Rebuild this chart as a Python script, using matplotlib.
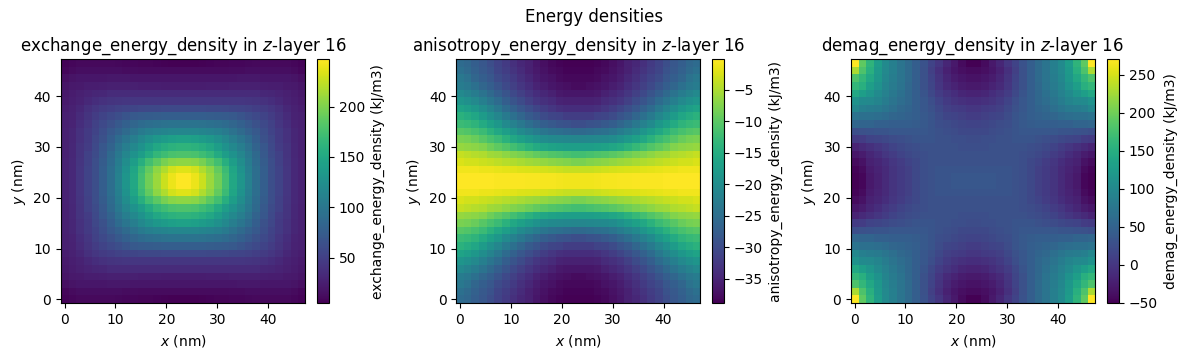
import numpy as np
import matplotlib
matplotlib.use("Agg")
import matplotlib.pyplot as plt

W, H = 1188, 358
cell_nm = 1.5
titles = ["exchange_energy_density", "anisotropy_energy_density", "demag_energy_density"]
layer = 16
suptitle = "Energy densities"
unit = "kJ/m3"

# lower-left quadrant (16x16 cells), row 0 at y = 0
exchange_q = [
 [7,9,11,11,11,11,11,10,9,9,8,8,7,6,5,4.6],
 [9,12,14,14,14,14,14,14,13,13,12,12,12,12,12,12],
 [15,17,19,19,19,19,20,20,20,19,19,19,19,19,19,19],
 [18,21,22,24,24,25,26,26,26,26,25,25,25,24,24,24],
 [20,23,26,29,31,32,34,34,34,34,34,34,34,34,34,34],
 [22,25,28,33,36,39,41,42,43,43,43,43,43,43,43,43],
 [24,27,32,38,43,47,50,52,54,55,56,57,57,58,58,58],
 [26,28,34,41,48,53,58,63,68,72,74,75,76,77,77,77],
 [26,29,36,43,51,58,65,72,79,85,89,92,94,96,97,97],
 [27,31,39,46,53,63,72,80,88,96,104,109,112,114,116,116],
 [27,31,39,46,56,65,77,89,99,108,118,126,133,138,141,143],
 [27,32,41,48,58,70,82,96,108,118,128,140,150,156,160,162],
 [27,32,41,51,60,72,87,102,116,128,140,153,165,172,177,179],
 [28,33,42,51,63,75,89,106,123,140,157,174,186,197,204,206],
 [28,33,43,53,63,77,92,109,128,147,170,189,206,218,230,235],
 [28,33,43,53,63,77,92,111,131,150,174,194,211,228,240,247],
]
anisotropy_q = [
 [-25.4,-26,-27.3,-28.4,-29.6,-31.1,-32.3,-33.5,-34.6,-35.4,-36.6,-37.3,-38.1,-38.5,-38.9,-38.9],
 [-24.6,-25.5,-26.9,-28.0,-29.2,-30.8,-31.9,-33.1,-34.2,-35.4,-36.2,-37.0,-37.7,-38.1,-38.5,-38.5],
 [-23.4,-24.3,-26.1,-27.3,-28.4,-30.0,-31.1,-32.3,-33.5,-34.6,-35.8,-36.6,-37.0,-37.7,-38.1,-38.1],
 [-22.6,-23.4,-24.6,-26.1,-27.3,-28.8,-30.4,-31.5,-32.7,-33.9,-35.0,-35.8,-36.6,-37.0,-37.3,-37.7],
 [-20.7,-21.5,-22.6,-24.2,-25.7,-27.3,-28.8,-30.4,-31.5,-32.7,-33.9,-34.6,-35.4,-36.2,-36.6,-36.6],
 [-18.7,-19.5,-20.7,-22.2,-23.8,-25.3,-27.3,-28.8,-30.0,-31.5,-32.7,-33.5,-34.2,-35.0,-35.4,-35.4],
 [-16.4,-17.2,-18.4,-19.9,-21.5,-23.4,-25.3,-26.9,-28.4,-29.6,-30.8,-31.9,-32.7,-33.5,-33.9,-33.9],
 [-14.1,-14.9,-16.0,-17.6,-19.5,-21.1,-23.0,-24.6,-26.1,-27.7,-28.8,-30.0,-30.8,-31.1,-31.9,-31.9],
 [-12.5,-13.0,-13.7,-15.2,-16.8,-18.4,-20.3,-21.8,-23.4,-24.9,-26.1,-27.3,-28.0,-28.8,-29.2,-29.6],
 [-10.2,-10.6,-11.4,-12.5,-14.1,-15.6,-17.2,-18.7,-20.3,-21.5,-22.6,-23.8,-24.6,-24.9,-25.3,-25.7],
 [-7.9,-8.3,-9.0,-10.2,-11.4,-12.5,-14.1,-15.6,-16.8,-18.0,-19.1,-20.0,-20.5,-20.8,-21.0,-21.1],
 [-6.3,-6.5,-6.9,-7.5,-8.7,-9.8,-10.6,-11.8,-12.9,-14.1,-15.2,-16.0,-16.6,-16.9,-17.1,-17.2],
 [-3.6,-4,-4.4,-4.8,-5.6,-6,-6.7,-7.5,-8,-8.7,-9.4,-10,-10.6,-11,-11.4,-11.8],
 [-2.4,-2.8,-2.8,-3.2,-3.6,-4,-4.4,-4.8,-5.2,-5.6,-6,-6.4,-6.8,-7.1,-7.5,-7.9],
 [-0.9,-1,-1,-1.2,-1.3,-1.5,-1.7,-1.9,-2.1,-2.3,-2.5,-2.7,-3,-3.2,-3.5,-3.6],
 [-0.13,-0.13,-0.2,-0.2,-0.2,-0.3,-0.3,-0.4,-0.4,-0.5,-0.5,-0.6,-0.7,-0.8,-0.9,-1.0],
]
demag_q = [
 [270,190,158,126,103,87,72,60,45,30,13,0,-16,-29,-42,-51],
 [229,180,151,123,100,87,72,60,45,29,10,-6,-22,-32,-38,-42],
 [180,161,142,119,97,85,72,60,45,29,13,-3,-16,-26,-32,-35],
 [161,151,129,113,94,82,71,58,45,29,16,0,-13,-19,-26,-29],
 [142,129,116,103,90,78,68,56,45,32,19,6,-3,-9,-16,-19],
 [113,103,100,94,84,72,64,56,45,36,26,13,3,-3,-6,-9],
 [97,87,84,81,74,66,58,52,45,36,29,19,10,6,3,0],
 [71,68,68,65,61,55,52,49,45,39,32,23,16,13,10,6],
 [55,52,52,48,48,45,45,45,42,39,32,26,23,19,16,13],
 [26,29,30,32,32,36,36,36,36,36,32,29,26,23,19,19],
 [3,6,13,16,19,23,26,29,32,32,32,29,29,26,26,23],
 [-19,-13,-6,0,6,13,19,23,26,29,29,29,29,29,26,26],
 [-32,-26,-16,-9,0,6,13,19,23,26,29,29,29,29,29,29],
 [-42,-35,-22,-16,-9,0,6,13,19,26,29,29,29,29,29,29],
 [-48,-42,-26,-19,-13,-3,3,10,19,26,29,32,32,32,32,32],
 [-51,-45,-29,-22,-13,-3,3,10,19,26,29,32,32,36,36,36],
]

def full(q):
    q = np.array(q, dtype=float)
    top = np.hstack([q, q[:, ::-1]])
    return np.vstack([top, top[::-1]])

fields = [full(exchange_q), full(anisotropy_q), full(demag_q)]
n = fields[0].shape[0]
extent = [-cell_nm / 2, (n - 0.5) * cell_nm, -cell_nm / 2, (n - 0.5) * cell_nm]

fig = plt.figure(figsize=(W / 100, H / 100), dpi=100)
fig.text(594 / W, 1 - 16.5 / H, suptitle, ha="center", va="center", fontsize=12)

top, bottom = 59.3, 303.3
ax_px = [(60.7, 305.2), (456.1, 700.4), (850.7, 1095.2)]
cb_px = [(316.9, 329.1), (712.2, 724.2), (1106.9, 1119.1)]

def rect(l, r):
    return [l / W, 1 - bottom / H, (r - l) / W, (bottom - top) / H]

for name, data, a, c in zip(titles, fields, ax_px, cb_px):
    ax = fig.add_axes(rect(*a))
    im = ax.imshow(data, origin="lower", extent=extent, cmap="viridis",
                   interpolation="nearest", aspect="auto")
    ax.set_title(f"{name} in $z$-layer {layer}", fontsize=12)
    ax.set_xlabel("$x$ (nm)")
    ax.set_ylabel("$y$ (nm)")
    ax.set_xticks(range(0, 41, 10))
    ax.set_yticks(range(0, 41, 10))
    cax = fig.add_axes(rect(*c))
    cb = fig.colorbar(im, cax=cax)
    cb.set_label(f"{name} ({unit})")

fig.savefig("out.png", dpi=100)
